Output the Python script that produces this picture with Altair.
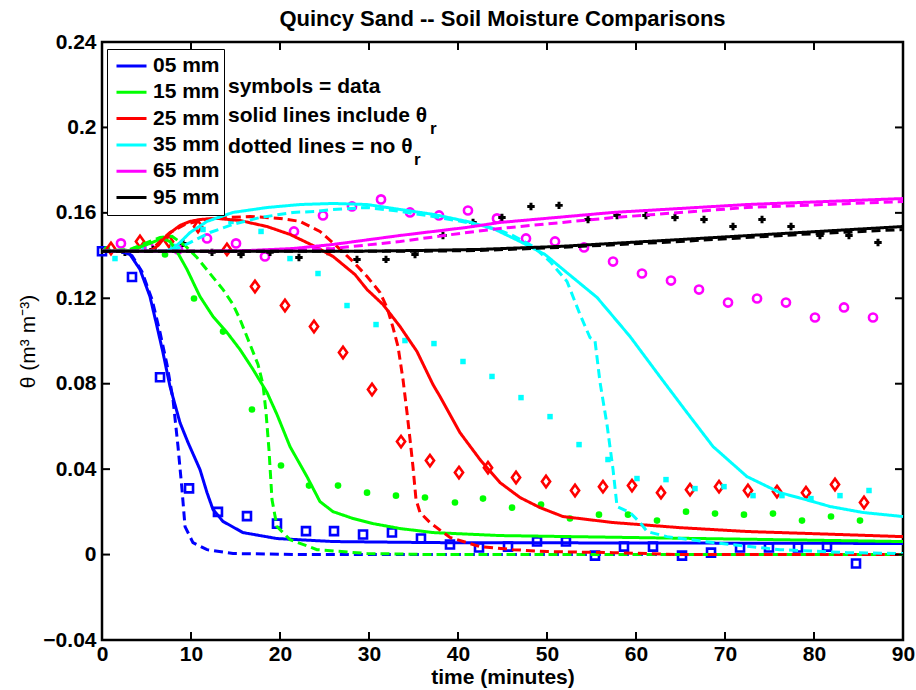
import altair as alt
import pandas as pd

SERIES = ["05 mm", "15 mm", "25 mm", "35 mm", "65 mm", "95 mm"]
COLORS = ["#0000ff", "#00ff00", "#ff0000", "#00ffff", "#ff00ff", "#000000"]

# ---------------- measured data (symbols) ----------------
t05 = [0, 3.37, 6.52, 9.78, 13.03, 16.29, 19.66, 22.92, 26.07, 29.33, 32.58, 35.84, 39.10, 42.36,
       45.62, 48.88, 52.13, 55.39, 58.65, 61.91, 65.17, 68.43, 71.69, 74.94, 78.20, 81.46, 84.72]
th05 = [0.142, 0.130, 0.083, 0.031, 0.020, 0.018, 0.0145, 0.011, 0.011, 0.0094, 0.0103, 0.0075, 0.0047,
        0.0033, 0.0037, 0.0061, 0.0061, -0.0005, 0.0037, 0.0037, -0.0005, 0.0009, 0.0033, 0.0033, 0.0033,
        0.0037, -0.0042]

t15 = [0.56, 3.82, 7.08, 10.34, 13.60, 16.85, 20.11, 23.26, 26.52, 29.78, 33.03, 36.29, 39.66, 42.81,
       46.07, 49.33, 52.58, 55.84, 59.10, 62.36, 65.62, 68.88, 72.13, 75.39, 78.65, 81.91, 85.17]
th15 = [0.1429, 0.1429, 0.1405, 0.1199, 0.1044, 0.0679, 0.0417, 0.0323, 0.0323, 0.0290, 0.0276, 0.0267,
        0.0244, 0.0262, 0.0220, 0.0234, 0.0169, 0.0187, 0.0187, 0.0159, 0.0201, 0.0192, 0.0187, 0.0192,
        0.0159, 0.0178, 0.0159]

t25 = [1.01, 4.27, 7.53, 10.79, 14.04, 17.19, 20.56, 23.82, 27.08, 30.34, 33.60, 36.85, 40.11, 43.37,
       46.52, 49.89, 53.15, 56.29, 59.55, 62.81, 66.07, 69.33, 72.58, 75.84, 79.10, 82.36, 85.62]
th25 = [0.1433, 0.1466, 0.1466, 0.1536, 0.1429, 0.1255, 0.1166, 0.1068, 0.0946, 0.0773, 0.0529, 0.0440,
        0.0384, 0.0407, 0.0361, 0.0342, 0.0300, 0.0318, 0.0323, 0.0290, 0.0304, 0.0318, 0.0300, 0.0295,
        0.0290, 0.0328, 0.0244]

t35 = [1.46, 4.72, 7.98, 11.35, 14.49, 17.87, 21.12, 24.27, 27.53, 30.79, 34.04, 37.30, 40.56, 43.82,
       47.08, 50.34, 53.60, 56.85, 60.11, 63.37, 66.63, 69.89, 73.15, 76.40, 79.66, 82.92, 86.18]
th35 = [0.1386, 0.1438, 0.1443, 0.1522, 0.1560, 0.1513, 0.1386, 0.1316, 0.1166, 0.1077, 0.1002, 0.0988,
        0.0904, 0.0834, 0.0735, 0.0646, 0.0515, 0.0445, 0.0356, 0.0351, 0.0309, 0.0318, 0.0276, 0.0276,
        0.0262, 0.0276, 0.0300]

t65 = [2.13, 5.28, 8.54, 11.80, 15.06, 18.31, 21.57, 24.83, 28.09, 31.35, 34.61, 37.87, 41.12, 44.38,
       47.64, 50.90, 54.16, 57.42, 60.67, 63.93, 67.08, 70.34, 73.60, 76.85, 80.11, 83.37, 86.63]
th65 = [0.1457, 0.1438, 0.1429, 0.1480, 0.1457, 0.1396, 0.1513, 0.1588, 0.1630, 0.1663, 0.1602, 0.1588,
        0.1611, 0.1574, 0.1480, 0.1466, 0.1438, 0.1372, 0.1316, 0.1283, 0.1241, 0.1180, 0.1199, 0.1180,
        0.1110, 0.1157, 0.1110]

t95 = [2.58, 5.73, 9.10, 12.36, 15.62, 18.88, 22.13, 25.39, 28.65, 31.91, 35.17, 38.31, 41.69, 44.94,
       48.20, 51.35, 54.61, 57.87, 61.12, 64.38, 67.64, 70.90, 74.16, 77.42, 80.67, 83.93, 87.19]
th95 = [0.1415, 0.1429, 0.1457, 0.1415, 0.1405, 0.1415, 0.1391, 0.1419, 0.1382, 0.1382, 0.1405, 0.1494,
        0.1555, 0.1578, 0.1630, 0.1635, 0.1569, 0.1588, 0.1588, 0.1578, 0.1569, 0.1536, 0.1569, 0.1536,
        0.1494, 0.1494, 0.1461]

# ---------------- model curves: solid (with theta_r) and dashed (no theta_r) ----------------
t05s = [0, 2.02, 3.15, 4.27, 5.39, 6.18, 6.85, 7.64, 8.76, 9.66, 11.01, 11.80, 12.47, 13.60, 15.84,
        19.66, 25.96, 37.19, 90]
th05s = [0.142, 0.142, 0.1405, 0.1335, 0.1208, 0.1068, 0.0946, 0.0787, 0.0618, 0.0525, 0.0398, 0.0290,
         0.0211, 0.0155, 0.0103, 0.0075, 0.0061, 0.0056, 0.0052]
t05d = [0, 2.25, 3.37, 4.49, 5.62, 6.52, 7.30, 7.98, 8.54, 8.99, 9.33, 10.22, 11.80, 14.72, 22.25, 90]
th05d = [0.142, 0.142, 0.1400, 0.1325, 0.1194, 0.1040, 0.0890, 0.0726, 0.0506, 0.0304, 0.0131, 0.0056,
         0.0023, 0.0005, 0.0, 0.0]

t15s = [0, 3.15, 5.39, 6.74, 7.64, 8.43, 9.55, 11.01, 12.47, 14.04, 15.51, 16.97, 18.54, 19.66, 21.12,
        23.03, 24.49, 25.96, 28.20, 30.45, 33.48, 37.19, 44.72, 90]
th15s = [0.142, 0.1424, 0.1457, 0.1480, 0.1466, 0.1419, 0.1335, 0.1208, 0.1115, 0.1040, 0.0960, 0.0867,
         0.0759, 0.0656, 0.0506, 0.0365, 0.0248, 0.0201, 0.0169, 0.0145, 0.0122, 0.0103, 0.0089, 0.0061]
t15d = [0, 3.15, 5.39, 6.52, 7.87, 9.33, 10.67, 12.13, 13.60, 14.72, 15.51, 16.63, 17.53, 18.09, 18.43,
        18.76, 19.10, 19.66, 21.12, 24.16, 29.78, 37.19, 90]
th15d = [0.142, 0.1429, 0.1466, 0.1485, 0.1490, 0.1447, 0.1391, 0.1316, 0.1241, 0.1171, 0.1101, 0.0984,
         0.0890, 0.0796, 0.0665, 0.0492, 0.0258, 0.0131, 0.0070, 0.0023, 0.0005, 0.0, 0.0]

t25s = [0, 5.39, 6.29, 7.08, 7.87, 8.76, 9.89, 11.01, 12.92, 15.51, 18.54, 21.12, 23.71, 25.96, 28.43,
        29.78, 31.57, 33.48, 35.39, 37.19, 37.98, 40.22, 42.47, 44.72, 46.97, 49.21, 51.80, 57.42, 64.94,
        72.47, 79.89, 90]
th25s = [0.142, 0.142, 0.1447, 0.1485, 0.1513, 0.1541, 0.1560, 0.1569, 0.1574, 0.1564, 0.1536, 0.1499,
         0.1447, 0.1396, 0.1311, 0.1241, 0.1171, 0.1068, 0.0951, 0.0796, 0.0740, 0.0571, 0.0445, 0.0337,
         0.0267, 0.0220, 0.0178, 0.0150, 0.0126, 0.0108, 0.0098, 0.0084]
t25d = [0, 5.39, 6.52, 7.64, 9.33, 11.57, 14.04, 16.63, 20.0, 22.25, 24.49, 26.40, 28.20, 29.78, 31.24,
        32.02, 32.70, 33.26, 33.82, 34.27, 34.61, 34.94, 35.28, 35.73, 36.85, 39.10, 42.47, 46.18, 50.0,
        57.42, 64.94, 90]
th25d = [0.142, 0.142, 0.1466, 0.1508, 0.1546, 0.1569, 0.1578, 0.1583, 0.1574, 0.1560, 0.1513, 0.1443,
         0.1372, 0.1302, 0.1227, 0.1157, 0.1063, 0.0974, 0.0820, 0.0665, 0.0539, 0.0412, 0.0258, 0.0197,
         0.0150, 0.0080, 0.0037, 0.0023, 0.0014, 0.0009, 0.0, 0.0]

t35s = [0, 7.08, 7.98, 8.76, 9.89, 11.80, 14.72, 18.54, 22.25, 25.96, 29.78, 33.48, 37.19, 41.01, 43.93,
        46.97, 49.78, 51.80, 55.62, 59.33, 62.92, 65.73, 68.65, 72.47, 76.18, 79.89, 81.80, 85.51, 90]
th35s = [0.142, 0.142, 0.1433, 0.1461, 0.1508, 0.1560, 0.1602, 0.1625, 0.1639, 0.1644, 0.1639, 0.1616,
         0.1593, 0.1560, 0.1527, 0.1466, 0.1405, 0.1335, 0.1204, 0.1021, 0.0820, 0.0665, 0.0506, 0.0365,
         0.0290, 0.0248, 0.0225, 0.0197, 0.0178]
t35d = [0, 7.08, 7.98, 9.89, 12.13, 14.72, 17.75, 21.46, 24.16, 25.96, 29.78, 33.48, 37.19, 41.01, 44.72,
        46.18, 48.43, 50.34, 52.25, 53.71, 54.83, 55.39, 55.96, 56.74, 57.42, 57.87, 59.33, 60.45, 61.24,
        63.48, 68.65, 76.18, 83.71, 90]
th35d = [0.142, 0.142, 0.1424, 0.1461, 0.1508, 0.1546, 0.1578, 0.1602, 0.1607, 0.1616, 0.1625, 0.1607,
         0.1583, 0.1555, 0.1518, 0.1494, 0.1443, 0.1372, 0.1279, 0.1124, 0.1016, 0.1002, 0.0806, 0.0609,
         0.0398, 0.0225, 0.0197, 0.0150, 0.0108, 0.0084, 0.0056, 0.0023, 0.0009, 0.0005]

t65s = [0, 11.01, 16.63, 21.46, 25.96, 33.48, 41.01, 44.72, 57.42, 72.47, 90]
th65s = [0.142, 0.142, 0.1424, 0.1433, 0.1452, 0.1494, 0.1532, 0.1555, 0.1602, 0.1639, 0.1667]
t65d = [0, 14.38, 21.46, 25.96, 33.48, 41.01, 44.72, 57.42, 72.47, 90]
th65d = [0.142, 0.142, 0.1424, 0.1433, 0.1466, 0.1508, 0.1527, 0.1578, 0.1625, 0.1653]

t95s = [0, 27.87, 35.73, 42.47, 51.46, 64.94, 78.43, 90]
th95s = [0.142, 0.142, 0.1424, 0.1429, 0.1443, 0.1475, 0.1508, 0.1536]
t95d = [0, 27.87, 35.73, 42.47, 51.46, 64.94, 78.43, 90]
th95d = [0.142, 0.142, 0.142, 0.1424, 0.1438, 0.1466, 0.1499, 0.1522]

x_ticks = [0, 10, 20, 30, 40, 50, 60, 70, 80, 90]
y_ticks = [-0.04, 0, 0.04, 0.08, 0.12, 0.16, 0.2, 0.24]

# ---------------- tables ----------------
curves = [
    ("05 mm", t05s, th05s, t05d, th05d),
    ("15 mm", t15s, th15s, t15d, th15d),
    ("25 mm", t25s, th25s, t25d, th25d),
    ("35 mm", t35s, th35s, t35d, th35d),
    ("65 mm", t65s, th65s, t65d, th65d),
    ("95 mm", t95s, th95s, t95d, th95d),
]
rows = []
for name, ts, ys, td, yd in curves:
    for i, (a, b) in enumerate(zip(ts, ys)):
        rows.append({"t": a, "theta": b, "series": name, "kind": "solid", "idx": i})
    for i, (a, b) in enumerate(zip(td, yd)):
        rows.append({"t": a, "theta": b, "series": name, "kind": "dashed", "idx": i})
lines_df = pd.DataFrame(rows)

obs = {
    "05 mm": (t05, th05), "15 mm": (t15, th15), "25 mm": (t25, th25),
    "35 mm": (t35, th35), "65 mm": (t65, th65), "95 mm": (t95, th95),
}

W, H = 801, 598
FONT = "Liberation Sans"

XSCALE = alt.Scale(domain=[0, 90], nice=False, zero=False)
YSCALE = alt.Scale(domain=[-0.04, 0.24], nice=False, zero=False)
XAXIS = alt.Axis(values=x_ticks, format="d", ticks=False, tickSize=0, domain=False, grid=False,
                 labelFont=FONT, labelFontWeight="bold", labelFontSize=21, labelColor="black",
                 labelPadding=3, labelFlush=False, labelOverlap=False,
                 titleFont=FONT, titleFontWeight="bold", titleFontSize=21, titleColor="black",
                 titlePadding=2)
YAXIS = alt.Axis(values=y_ticks, format=".2~f", ticks=False, tickSize=0, domain=False, grid=False,
                 labelFont=FONT, labelFontWeight="bold", labelFontSize=21, labelColor="black",
                 labelPadding=6, labelFlush=False, labelOverlap=False,
                 titleFont=FONT, titleFontWeight="normal", titleFontSize=21, titleColor="black",
                 titlePadding=4)


def X(field="t"):
    return alt.X(f"{field}:Q", scale=XSCALE, axis=XAXIS, title="time (minutes)")


def Y(field="theta"):
    return alt.Y(f"{field}:Q", scale=YSCALE, axis=YAXIS, title="θ (m³ m⁻³)")


marker_style = {
    "05 mm": dict(shape="square", size=64, filled=False, strokeWidth=2.6),
    "15 mm": dict(shape="circle", size=44, filled=True),
    "25 mm": dict(shape="M0,-1L0.72,0L0,1L-0.72,0Z", size=130, filled=False, strokeWidth=2.6),
    "35 mm": dict(shape="square", size=30, filled=True),
    "65 mm": dict(shape="circle", size=66, filled=False, strokeWidth=2.6),
    "95 mm": dict(shape="cross", size=55, filled=True),
}

layers = []
for name, col in zip(SERIES, COLORS):
    ts, ys = obs[name]
    df = pd.DataFrame({"t": ts, "theta": ys})
    layers.append(alt.Chart(df).mark_point(color=col, opacity=1, **marker_style[name]).encode(x=X(), y=Y()))

legend = alt.Legend(orient="none", legendX=5, legendY=7, title=None, symbolType="stroke",
                    symbolSize=900, symbolStrokeWidth=3, labelFont=FONT, labelFontSize=21,
                    labelFontWeight="bold", labelColor="black", labelOffset=5, padding=4,
                    symbolOffset=4, clipHeight=26, rowPadding=0.3, strokeColor="black",
                    fillColor="white", direction="vertical")

lines = alt.Chart(lines_df).mark_line(strokeWidth=3).encode(
    x=X(), y=Y(),
    color=alt.Color("series:N", scale=alt.Scale(domain=SERIES, range=COLORS), legend=legend),
    strokeDash=alt.StrokeDash("kind:N", scale=alt.Scale(domain=["solid", "dashed"], range=[[1, 0], [9, 5]]),
                              legend=None),
    order="idx:Q",
)
layers.append(lines)

xt = pd.DataFrame({"t": x_ticks})
yt = pd.DataFrame({"theta": y_ticks})
layers.append(alt.Chart(xt).mark_rule(color="black", strokeWidth=2).encode(x=X(), y=alt.value(H), y2=alt.value(H - 8)))
layers.append(alt.Chart(xt).mark_rule(color="black", strokeWidth=2).encode(x=X(), y=alt.value(0), y2=alt.value(8)))
layers.append(alt.Chart(yt).mark_rule(color="black", strokeWidth=2).encode(y=Y(), x=alt.value(0), x2=alt.value(8)))
layers.append(alt.Chart(yt).mark_rule(color="black", strokeWidth=2).encode(y=Y(), x=alt.value(W), x2=alt.value(W - 8)))

notes = [("symbols = data", 126, 51), ("solid lines include θ", 126, 80), ("dotted lines = no θ", 126, 111)]
for txt, px, py in notes:
    layers.append(alt.Chart(pd.DataFrame({"s": [txt]})).mark_text(
        font=FONT, fontSize=21, fontWeight="bold", align="left", baseline="alphabetic", color="black"
    ).encode(text="s:N", x=alt.value(px), y=alt.value(py)))
for px, py in [(328, 92), (312, 123)]:
    layers.append(alt.Chart(pd.DataFrame({"s": ["r"]})).mark_text(
        font=FONT, fontSize=17, fontWeight="bold", align="left", baseline="alphabetic", color="black"
    ).encode(text="s:N", x=alt.value(px), y=alt.value(py)))

chart = alt.layer(*layers).properties(
    width=W, height=H,
    title=alt.TitleParams("Quincy Sand -- Soil Moisture Comparisons", font=FONT, fontSize=22,
                          fontWeight="bold", color="black", anchor="middle", offset=0),
    padding={"left": 102, "top": 42, "right": 13, "bottom": 50},
    autosize=alt.AutoSizeParams(type="none"),
    background="white",
).configure_view(stroke="black", strokeWidth=2.5)

chart.save("out.html", embed_options={"renderer": "svg", "actions": False})
